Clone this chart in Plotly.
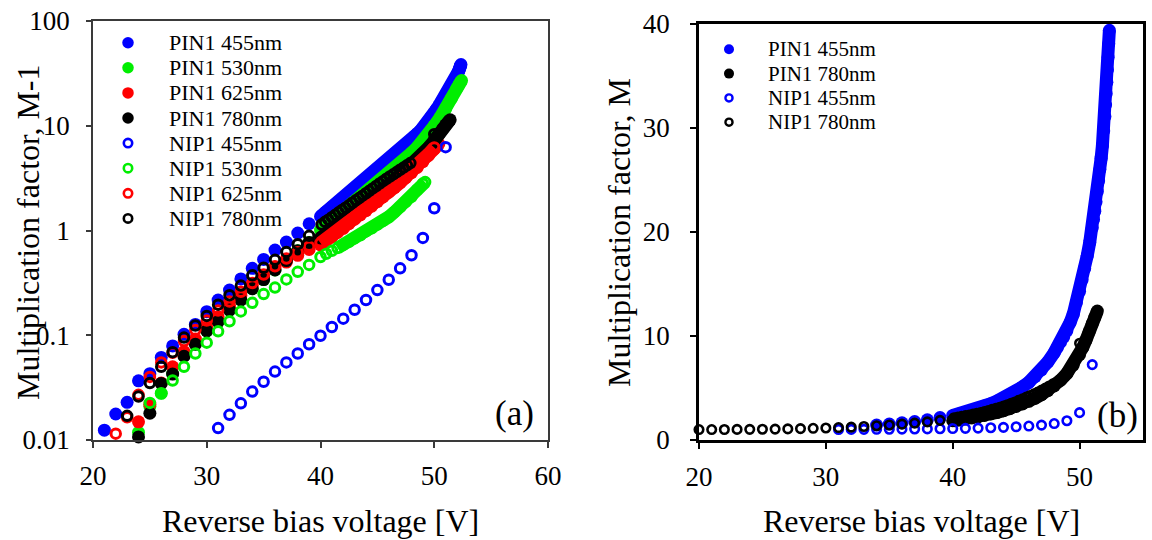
import plotly.graph_objects as go

# ---------------- data ----------------
# Panel (a) shows M-1 on a log axis; panel (b) shows M = (M-1) + 1.
pin455_v = [21, 22, 23, 24, 25, 26, 27, 28, 29, 30, 31, 32, 33, 34, 35, 36, 37, 38, 39,
            40, 40.5, 41, 41.5, 42, 42.5, 43, 43.5, 44, 44.5, 45, 45.5, 46, 46.5, 47, 47.5,
            48, 48.25, 48.5, 48.75, 49, 49.25, 49.5, 49.75, 50, 50.2, 50.4, 50.6, 50.8,
            51, 51.1, 51.2, 51.3, 51.4, 51.5, 51.6, 51.7, 51.8, 51.9,
            52, 52.05, 52.1, 52.15, 52.2, 52.25, 52.3, 52.35]
pin455_m1 = [0.0124, 0.0177, 0.0229, 0.0367, 0.043, 0.0614, 0.079, 0.102, 0.127, 0.168, 0.217,
             0.27, 0.345, 0.435, 0.53, 0.65, 0.775, 0.945, 1.16,
             1.36, 1.51, 1.67, 1.85, 2.05, 2.26, 2.49, 2.75, 3.04, 3.37, 3.72, 4.11, 4.55, 5.1, 5.75, 6.5,
             7.4, 7.9, 8.4, 8.9, 9.5, 10.3, 11.1, 12.2, 13.3, 14.4, 15.5, 16.7, 18.0,
             19.4, 20.2, 21.0, 21.9, 22.9, 23.9, 25.0, 26.1, 27.3, 28.7,
             30.1, 31.2, 32.3, 33.4, 34.6, 35.8, 37.1, 38.4]

pin530_v = [24, 25, 26, 27, 28, 29, 30, 31, 32, 33, 34, 35, 36, 37, 38, 39,
            40, 40.5, 41, 41.5, 42, 42.5, 43, 43.5, 44, 44.5, 45, 45.5, 46, 46.5, 47, 47.5,
            48, 48.5, 49, 49.5, 50, 50.5, 51, 51.5, 52, 52.2, 52.4]
pin530_m1 = [0.0118, 0.021, 0.0279, 0.043, 0.064, 0.083, 0.11, 0.135, 0.174, 0.218, 0.278,
             0.34, 0.42, 0.516, 0.64, 0.77,
             1.01, 1.12, 1.24, 1.37, 1.52, 1.67, 1.85, 2.04, 2.25, 2.49, 2.76, 3.05, 3.37, 3.8,
             4.29, 4.84, 5.5, 6.22, 7.05, 8.3, 10.0, 11.9, 14.5, 18.2, 22.9, 25.0, 27.0]

pin625_v = [24, 25, 26, 27, 28, 29, 30, 31, 32, 33, 34, 35, 36, 37, 38, 39,
            40, 40.5, 41, 41.5, 42, 42.5, 43, 43.5, 44, 44.5, 45, 45.5, 46, 46.5, 47, 47.5,
            48, 48.5, 49, 49.5, 50, 50.4]
pin625_m1 = [0.0149, 0.022, 0.035, 0.05, 0.07, 0.092, 0.12, 0.15, 0.19, 0.24, 0.3, 0.37,
             0.44, 0.5, 0.58, 0.66,
             0.73, 0.8, 0.87, 0.96, 1.05, 1.16, 1.28, 1.41, 1.55, 1.71, 1.89, 2.09, 2.32, 2.57,
             2.86, 3.19, 3.56, 4.0, 4.55, 5.2, 6.0, 6.7]

pin780_v = [24, 25, 26, 27, 28, 29, 30, 31, 32, 33, 34, 35, 36, 37, 38, 39,
            40, 40.5, 41, 41.5, 42, 42.5, 43, 43.5, 44, 44.5, 45, 45.5, 46, 46.5, 47, 47.5,
            48, 48.5, 49, 49.5, 50, 50.25, 50.5, 50.75, 51, 51.2, 51.4]
pin780_m1 = [0.0107, 0.018, 0.0347, 0.0426, 0.063, 0.082, 0.11, 0.135, 0.174, 0.218, 0.278,
             0.34, 0.42, 0.516, 0.64, 0.77,
             0.85, 0.93, 1.02, 1.12, 1.23, 1.36, 1.5, 1.65, 1.82, 2.01, 2.22, 2.46, 2.72, 3.02,
             3.36, 3.75, 4.2, 4.75, 5.4, 6.2, 7.2, 7.9, 8.6, 9.4, 10.2, 10.8, 11.4]

nip455_v = [31, 32, 33, 34, 35, 36, 37, 38, 39, 40, 41, 42, 43, 44, 45, 46, 47, 48, 49, 50, 51]
nip455_m1 = [0.013, 0.0174, 0.0224, 0.029, 0.036, 0.045, 0.055, 0.067, 0.082, 0.099, 0.12,
             0.144, 0.175, 0.217, 0.27, 0.339, 0.435, 0.58, 0.85, 1.63, 6.25]

nip530_v = [25, 26, 27, 28, 29, 30, 31, 32, 33, 34, 35, 36, 37, 38, 39, 40,
            40.5, 41, 41.5, 42, 42.5, 43, 43.5, 44, 44.5, 45, 45.5, 46, 46.5, 47, 47.5,
            48, 48.5, 49, 49.2]
nip530_m1 = [0.0226, 0.028, 0.037, 0.05, 0.067, 0.085, 0.109, 0.136, 0.169, 0.204, 0.247,
             0.285, 0.341, 0.403, 0.469, 0.558,
             0.6, 0.64, 0.68, 0.73, 0.78, 0.84, 0.9, 0.98, 1.05, 1.14, 1.24, 1.35, 1.5, 1.67,
             1.88, 2.1, 2.45, 2.8, 2.9]

nip625_v = [22, 23, 24, 25, 26, 27, 28, 29, 30, 31, 32, 33, 34, 35, 36, 37, 38, 39,
            40, 40.5, 41, 41.5, 42, 42.5, 43, 43.5, 44, 44.5, 45, 45.5, 46, 46.5, 47, 47.5,
            48, 48.5, 49, 49.5, 50]
nip625_m1 = [0.0115, 0.0165, 0.027, 0.04, 0.055, 0.068, 0.088, 0.112, 0.138, 0.172, 0.21,
             0.26, 0.315, 0.38, 0.455, 0.54, 0.62, 0.7,
             0.76, 0.83, 0.9, 1.0, 1.09, 1.2, 1.33, 1.46, 1.61, 1.78, 1.97, 2.17, 2.41, 2.67,
             2.97, 3.32, 3.7, 4.15, 4.7, 5.4, 6.2]

nip780_v = [20, 21, 22, 23, 24, 25, 26, 27, 28, 29, 30, 31, 32, 33, 34, 35, 36, 37, 38, 39,
            40.1, 40.4, 40.7, 41.0, 41.3, 41.6, 41.9, 42.2, 42.5, 42.8, 43.1, 43.4, 43.7,
            44.0, 44.3, 44.6, 44.9, 45.2, 45.5, 45.8, 46.1, 46.4, 46.7, 47.0, 47.3, 47.6,
            47.9, 50.0]
nip780_m1 = [0.003, 0.004, 0.006, 0.017, 0.026, 0.035, 0.05, 0.069, 0.095, 0.124, 0.153,
             0.196, 0.241, 0.298, 0.373, 0.441, 0.525, 0.625, 0.74, 0.89,
             1.14, 1.21, 1.27, 1.34, 1.41, 1.49, 1.57, 1.65, 1.74, 1.84, 1.94, 2.04, 2.15,
             2.27, 2.39, 2.52, 2.66, 2.81, 2.96, 3.12, 3.28, 3.44, 3.61, 3.8, 3.99, 4.19,
             4.4, 8.3]

for _v, _m in [(pin455_v, pin455_m1), (pin530_v, pin530_m1), (pin625_v, pin625_m1),
               (pin780_v, pin780_m1), (nip455_v, nip455_m1), (nip530_v, nip530_m1),
               (nip625_v, nip625_m1), (nip780_v, nip780_m1)]:
    assert len(_v) == len(_m)

x_ticks_a = [20, 30, 40, 50, 60]
y_ticks_a = [0.01, 0.1, 1, 10, 100]
y_tick_text_a = ["0.01", "0.1", "1", "10", "100"]
x_ticks_b = [20, 30, 40, 50]
y_ticks_b = [0, 10, 20, 30, 40]

# ---------------- styles ----------------
BLUE, GREEN, RED, BLACK = "#0000ff", "#00ee00", "#ff0000", "#000000"
NO_BAND = 99  # voltage from which the densely measured points merge into a band
# (name, volts, M-1, colour, filled, band-from voltage)
series_a = [
    ("PIN1 455nm", pin455_v, pin455_m1, BLUE, True, 40),
    ("PIN1 530nm", pin530_v, pin530_m1, GREEN, True, 40),
    ("PIN1 625nm", pin625_v, pin625_m1, RED, True, 40),
    ("PIN1 780nm", pin780_v, pin780_m1, BLACK, True, 40),
    ("NIP1 455nm", nip455_v, nip455_m1, BLUE, False, NO_BAND),
    ("NIP1 530nm", nip530_v, nip530_m1, GREEN, False, 41.5),
    ("NIP1 625nm", nip625_v, nip625_m1, RED, False, 40),
    ("NIP1 780nm", nip780_v, nip780_m1, BLACK, False, NO_BAND),
]
# panel (b): (name, volts, M-1, colour, filled, band-from, first voltage shown)
series_b = [
    ("PIN1 455nm", pin455_v, pin455_m1, BLUE, True, 40, 34),
    ("PIN1 780nm", pin780_v, pin780_m1, BLACK, True, 40, 40),
    ("NIP1 455nm", nip455_v, nip455_m1, BLUE, False, NO_BAND, 20),
    ("NIP1 780nm", nip780_v, nip780_m1, BLACK, False, NO_BAND, 20),
]

W, H = 1152, 540
A = dict(x0=93, x1=548, y0=21, y1=440)
B = dict(x0=699, x1=1143, y0=24, y1=440)
FONT = "Liberation Serif"


def px(x):
    return x / W


def py(y):
    return 1 - y / H


def marker(color, filled, big):
    if filled:
        return dict(symbol="circle", size=13, color=color, line=dict(width=0))
    return dict(symbol="circle-open", size=9.5 if big else 8.5, color=color,
                line=dict(width=3 if big else 2.6, color=color))


fig = go.Figure()


def add_series(name, xs, ys, col, filled, band_from, big, xa, ya):
    disc = [(a, b) for a, b in zip(xs, ys) if a < band_from]
    band = [(a, b) for a, b in zip(xs, ys) if a >= band_from]
    if disc:
        fig.add_trace(go.Scatter(
            x=[p[0] for p in disc], y=[p[1] for p in disc], mode="markers", name=name,
            legendgroup=name, marker=marker(col, filled, big), xaxis=xa, yaxis=ya,
            cliponaxis=False, showlegend=False))
    if band:
        fig.add_trace(go.Scatter(
            x=[p[0] for p in band], y=[p[1] for p in band], mode="lines+markers", name=name,
            legendgroup=name, marker=marker(col, filled, big),
            line=dict(color=col, width=13), xaxis=xa, yaxis=ya,
            cliponaxis=False, showlegend=False))


for name, v, m, col, filled, band_from in series_a:
    keep = [(a, b) for a, b in zip(v, m) if b >= 0.01]   # below the log-axis range
    add_series(name, [k[0] for k in keep], [k[1] for k in keep], col, filled, band_from,
               True, "x", "y")

for name, v, m, col, filled, band_from, vmin in series_b:
    keep = [(a, b + 1) for a, b in zip(v, m) if a >= vmin]
    add_series(name, [k[0] for k in keep], [k[1] for k in keep], col, filled, band_from,
               False, "x2", "y2")

axis_common = dict(showgrid=False, zeroline=False, showline=True, mirror=True,
                   automargin=False, ticks="outside",
                   tickfont=dict(family=FONT, size=27, color="black"))

fig.update_layout(
    width=W, height=H, autosize=False,
    margin=dict(l=0, r=0, t=0, b=0, autoexpand=False),
    paper_bgcolor="white", plot_bgcolor="white",
    font=dict(family=FONT, color="black"),
    xaxis=dict(domain=[px(A["x0"]), px(A["x1"])], range=[20, 60], tickvals=x_ticks_a,
               linecolor="#3a3a3a", linewidth=1.5, tickcolor="#3a3a3a", tickwidth=1.5,
               ticklen=6, ticklabelstandoff=5, anchor="y", **axis_common),
    yaxis=dict(domain=[py(A["y1"]), py(A["y0"])], type="log", range=[-2, 2],
               tickvals=y_ticks_a, ticktext=y_tick_text_a,
               linecolor="#3a3a3a", linewidth=1.5, tickcolor="#3a3a3a", tickwidth=1.5,
               ticklen=5, ticklabelstandoff=11, anchor="x", **axis_common),
    xaxis2=dict(domain=[px(B["x0"]), px(B["x1"])], range=[20, 55], tickvals=x_ticks_b,
                linecolor="black", linewidth=2.5, tickcolor="black", tickwidth=2,
                ticklen=6, ticklabelstandoff=5, anchor="y2", **axis_common),
    yaxis2=dict(domain=[py(B["y1"]), py(B["y0"])], range=[0, 40], tickvals=y_ticks_b,
                linecolor="black", linewidth=2.5, tickcolor="black", tickwidth=2,
                ticklen=6, ticklabelstandoff=15, anchor="x2", **axis_common),
)

ann = []
title_font = dict(family=FONT, size=32, color="black")
ann.append(dict(text="Reverse bias voltage [V]", x=px((A["x0"] + A["x1"]) / 2), y=py(521),
                xref="paper", yref="paper", showarrow=False, font=title_font,
                xanchor="center", yanchor="middle"))
ann.append(dict(text="Reverse bias voltage [V]", x=px((B["x0"] + B["x1"]) / 2), y=py(521),
                xref="paper", yref="paper", showarrow=False, font=title_font,
                xanchor="center", yanchor="middle"))
ann.append(dict(text="Multiplication factor, M-1", x=px(28), y=py(232), textangle=-90,
                xref="paper", yref="paper", showarrow=False, font=title_font,
                xanchor="center", yanchor="middle"))
ann.append(dict(text="Multiplication factor, M", x=px(619), y=py(233), textangle=-90,
                xref="paper", yref="paper", showarrow=False, font=title_font,
                xanchor="center", yanchor="middle"))
ann.append(dict(text="(a)", x=px(514), y=py(413), xref="paper", yref="paper",
                showarrow=False, font=dict(family=FONT, size=35, color="black"),
                xanchor="center", yanchor="middle"))
ann.append(dict(text="(b)", x=px(1117), y=py(415), xref="paper", yref="paper",
                showarrow=False, font=dict(family=FONT, size=35, color="black"),
                xanchor="center", yanchor="middle"))

shapes = []


def legend_entry(name, col, filled, mx, my, tx, d_fill, d_open, lw, fsize):
    if filled:
        r = d_fill / 2
        shapes.append(dict(type="circle", xref="paper", yref="paper",
                           xsizemode="pixel", ysizemode="pixel",
                           xanchor=px(mx), yanchor=py(my), x0=-r, x1=r, y0=-r, y1=r,
                           fillcolor=col, line=dict(width=0)))
    else:
        r = (d_open - lw) / 2
        shapes.append(dict(type="circle", xref="paper", yref="paper",
                           xsizemode="pixel", ysizemode="pixel",
                           xanchor=px(mx), yanchor=py(my), x0=-r, x1=r, y0=-r, y1=r,
                           fillcolor="rgba(0,0,0,0)", line=dict(width=lw, color=col)))
    ann.append(dict(text=name, x=px(tx), y=py(my), xref="paper", yref="paper",
                    showarrow=False, xanchor="left", yanchor="middle",
                    font=dict(family=FONT, size=fsize, color="black")))


for i, (name, _v, _m, col, filled, _b) in enumerate(series_a):
    legend_entry(name, col, filled, 128, 42.7 + 25.1 * i, 167, 11.5, 11, 2.6, 22)

for i, (name, _v, _m, col, filled, _b, _f) in enumerate(series_b):
    legend_entry(name, col, filled, 729, 49.3 + 24.3 * i, 766, 10, 9.5, 2.4, 21)

fig.update_layout(annotations=ann, shapes=shapes)

fig.write_html("out.html", config={"displayModeBar": False},
               post_script="document.body.style.margin='0px';"
                           "document.body.style.overflow='hidden';")
